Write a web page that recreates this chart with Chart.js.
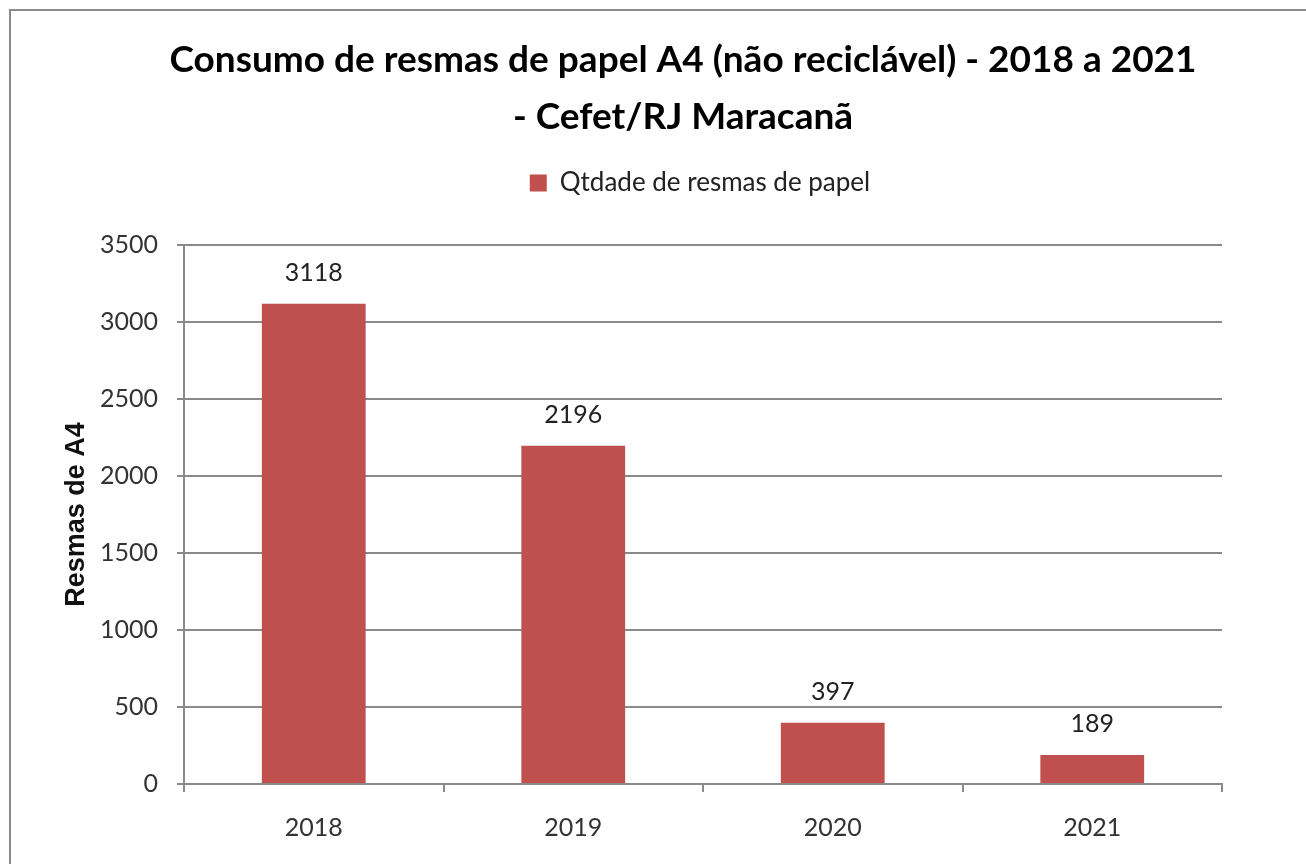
<!DOCTYPE html>
<html>
<head>
<meta charset="utf-8">
<script src="https://cdn.jsdelivr.net/npm/chart.js@4.4.0/dist/chart.umd.min.js"></script>
<style>
    html, body { margin: 0; padding: 0; background: #ffffff; }
    #wrap { width: 1306px; height: 864px; }
</style>
</head>
<body>
<div id="wrap"><canvas id="chart" width="1306" height="864"></canvas></div>
<script>
"use strict";

// dados
const anos = ["2018", "2019", "2020", "2021"];
const resmas = [3118, 2196, 397, 189];
const yTicks = [0, 500, 1000, 1500, 2000, 2500, 3000, 3500];

const tituloLinhas = [
    "Consumo de resmas de papel A4 (não reciclável) - 2018 a 2021",
    "- Cefet/RJ Maracanã"
];
const serieNome = "Qtdade de resmas de papel";
const eixoYNome = "Resmas de A4";

const fonteTexto = "Lato, 'Open Sans', sans-serif";
const corBarra = "#C0504D";
const corGrade = "#8a8a8a";

// moldura cinza do gráfico (só topo e esquerda aparecem na imagem)
const moldura = {
    id: "moldura",
    beforeDraw: function(chart) {
        let ctx = chart.ctx;
        ctx.save();
        ctx.fillStyle = "#ffffff";
        ctx.fillRect(0, 0, chart.width, chart.height);
        ctx.strokeStyle = "#8a8a8a";
        ctx.lineWidth = 2;
        ctx.beginPath();
        ctx.moveTo(10, chart.height);
        ctx.lineTo(10, 10);
        ctx.lineTo(chart.width, 10);
        ctx.stroke();
        ctx.restore();
    },
    // a legenda no original fica um pouco à direita do título
    afterLayout: function(chart) {
        if (chart.legend) {
            chart.legend.left += 17;
            chart.legend.right += 17;
        }
    }
};

// rótulos de valor acima das barras
const rotulos = {
    id: "rotulos",
    afterDatasetsDraw: function(chart) {
        let ctx = chart.ctx;
        let meta = chart.getDatasetMeta(0);
        ctx.save();
        ctx.font = "25px " + fonteTexto;
        ctx.fillStyle = "#222222";
        ctx.textAlign = "center";
        ctx.textBaseline = "middle";
        meta.data.forEach(function(bar, i) {
            ctx.fillText(String(resmas[i]), bar.x, bar.y - 31);
        });
        ctx.restore();
    }
};

new Chart(document.getElementById("chart"), {
    type: "bar",
    data: {
        labels: anos,
        datasets: [{
            label: serieNome,
            data: resmas,
            backgroundColor: corBarra,
            borderWidth: 0,
            barPercentage: 0.4,
            categoryPercentage: 1.0
        }]
    },
    options: {
        responsive: false,
        animation: false,
        devicePixelRatio: 1,
        layout: {
            // o eixo x já reserva ticks.padding * 2, por isso nada embaixo
            padding: { left: 60, right: 0, top: 10, bottom: 0 }
        },
        plugins: {
            title: {
                display: true,
                text: tituloLinhas,
                color: "#000000",
                font: { family: fonteTexto, size: 37, weight: "bold", lineHeight: "57px" },
                padding: { top: 21.5, bottom: 0 }
            },
            legend: {
                display: true,
                labels: {
                    boxWidth: 17,
                    boxHeight: 17,
                    color: "#222222",
                    padding: 24.5,
                    font: { family: fonteTexto, size: 26 }
                }
            },
            // espaço vazio entre legenda e área do gráfico
            subtitle: {
                display: true,
                text: "",
                weight: 500,
                font: { size: 10, lineHeight: 1 },
                padding: { top: 0, bottom: 29 }
            },
            tooltip: { enabled: false }
        },
        scales: {
            x: {
                grid: {
                    offset: true,
                    drawOnChartArea: false,
                    drawTicks: true,
                    tickLength: 8,
                    color: corGrade,
                    lineWidth: 2
                },
                border: { display: true, color: corGrade, width: 2 },
                ticks: {
                    color: "#333333",
                    padding: 21,
                    font: { family: fonteTexto, size: 25 }
                }
            },
            y: {
                min: 0,
                max: 3500,
                afterBuildTicks: function(scale) {
                    scale.ticks = yTicks.map(function(v) { return { value: v }; });
                },
                afterFit: function(scale) {
                    scale.width = 124;
                },
                grid: {
                    color: corGrade,
                    lineWidth: 2,
                    tickLength: 7
                },
                border: { display: true, color: corGrade, width: 2 },
                ticks: {
                    color: "#333333",
                    padding: 19,
                    font: { family: fonteTexto, size: 25 },
                    callback: function(v) { return String(v); }
                },
                title: {
                    display: true,
                    text: eixoYNome,
                    color: "#111111",
                    padding: 0,
                    font: { family: "'Liberation Sans', Arial, sans-serif", size: 27, weight: "bold" }
                }
            },
            // eixo vazio só para reservar a margem direita
            espaco: {
                type: "linear",
                position: "right",
                display: true,
                grid: { drawOnChartArea: false, drawTicks: false },
                border: { display: false },
                ticks: { display: false },
                afterFit: function(scale) {
                    scale.width = 84;
                }
            }
        }
    },
    plugins: [moldura, rotulos]
});
</script>
</body>
</html>
